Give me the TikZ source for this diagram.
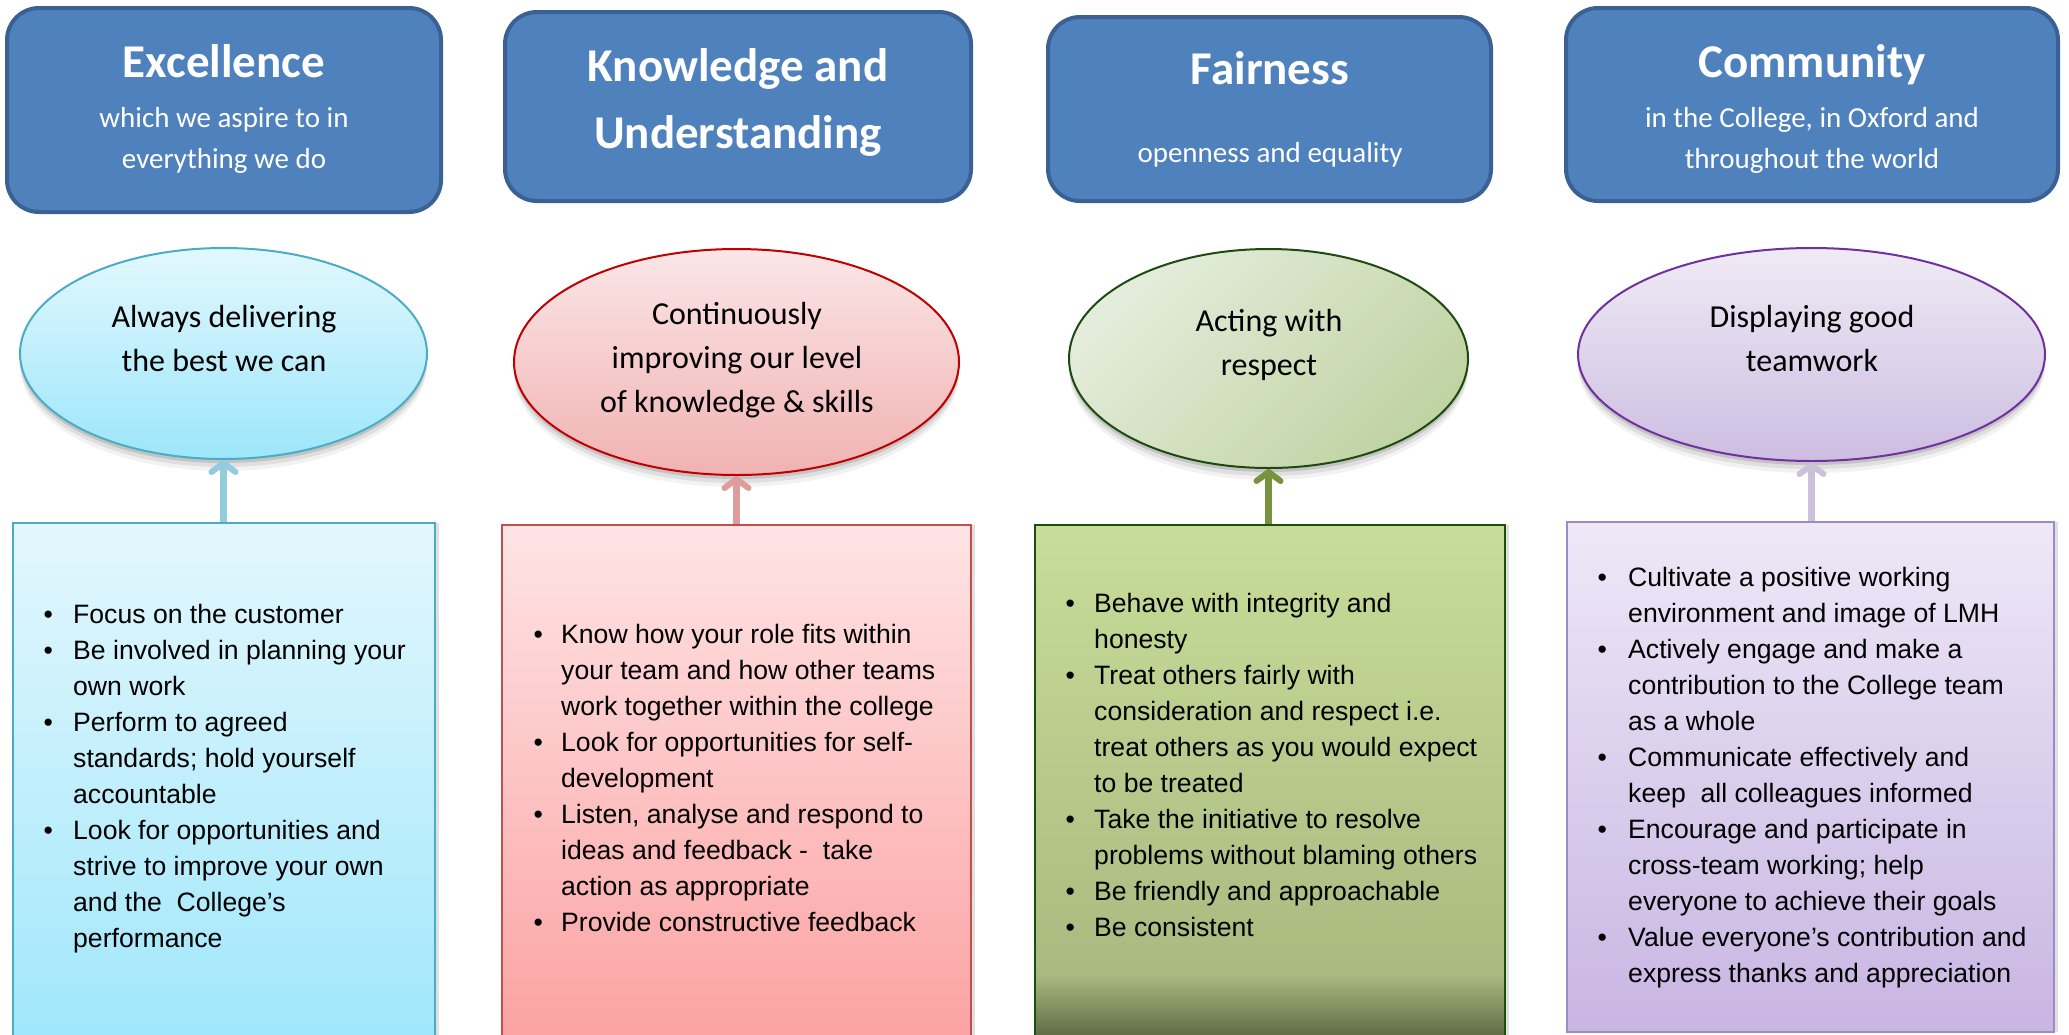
\documentclass[tikz,border=0pt]{standalone}
\usepackage{fontspec}
\setmainfont{Carlito}
\newfontfamily\arialf{Liberation Sans}
\usetikzlibrary{arrows.meta,shadows,shapes.geometric}
\definecolor{hdrfill}{HTML}{4F81BD}
\definecolor{hdrline}{HTML}{3A6094}
\definecolor{eAt}{HTML}{E2F8FD}\definecolor{eAb}{HTML}{9DE6FA}\definecolor{eAl}{HTML}{4BACC6}
\definecolor{eBt}{HTML}{FBE6E7}\definecolor{eBb}{HTML}{F1B2B2}\definecolor{eBl}{HTML}{C00000}
\definecolor{eCt}{HTML}{E4EDDC}\definecolor{eCb}{HTML}{C0D3A3}\definecolor{eCl}{HTML}{1E4A10}
\definecolor{eDt}{HTML}{EFEBF5}\definecolor{eDb}{HTML}{CDBDE1}\definecolor{eDl}{HTML}{7030A0}
\definecolor{bAt}{HTML}{E3F7FD}\definecolor{bAb}{HTML}{A0E7FB}\definecolor{bAl}{HTML}{4BACC6}
\definecolor{bBt}{HTML}{FEE4E5}\definecolor{bBb}{HTML}{FCA2A2}\definecolor{bBl}{HTML}{C0504D}
\definecolor{gT}{HTML}{C8DD99}\definecolor{gM}{HTML}{A9BA80}\definecolor{gB}{HTML}{5E6C44}\definecolor{bCl}{HTML}{1E4D0E}
\definecolor{bDt}{HTML}{EEE8F7}\definecolor{bDb}{HTML}{C8B5E2}\definecolor{bDl}{HTML}{9F8AC4}
\definecolor{aA}{HTML}{93CDDD}\definecolor{aB}{HTML}{DE9C9D}\definecolor{aC}{HTML}{77933C}\definecolor{aD}{HTML}{CCC1DA}
\pgfdeclareverticalshading{gboxshade}{100bp}{color(0bp)=(gB); color(25bp)=(gB); color(31bp)=(gM); color(75bp)=(gT); color(100bp)=(gT)}
\newcommand\bl[1]{\makebox[#1pt][l]{\textbullet}}
\newcommand\ind[1]{\hspace*{#1pt}}
\begin{document}
\begin{tikzpicture}[x=1pt,y=-1pt,
  hdr/.style={draw=hdrline, line width=4pt, fill=hdrfill, rounded corners=32pt, inner sep=0pt},
  ttl/.style={text=white, font=\bfseries\fontsize{47}{67}\selectfont, inner sep=0pt, anchor=base},
  sub/.style={text=white, font=\fontsize{29}{41}\selectfont, inner sep=0pt, anchor=base},
  etxt/.style={text=black, font=\fontsize{32}{44}\selectfont, inner sep=0pt, anchor=base},
  shadowy/.style={drop shadow={shadow xshift=0pt,shadow yshift=-4pt,opacity=.12,fill=black},
                  drop shadow={shadow xshift=0pt,shadow yshift=-8pt,opacity=.08,fill=black},
                  drop shadow={shadow xshift=0pt,shadow yshift=-12pt,opacity=.05,fill=black}},
  ell/.style={ellipse, line width=2pt, inner sep=0pt, shadowy},
  bbox/.style={rectangle, line width=2pt, inner sep=0pt,
               drop shadow={shadow xshift=4pt,shadow yshift=0pt,opacity=.12,fill=black}},
  lst/.style={text=black, font=\arialf\fontsize{26.6}{36}\selectfont, inner sep=0pt, anchor=base west},
  arr/.style={line width=7pt, -{Straight Barb[length=9pt,width=24pt,line width=6pt,round]}}
]
\useasboundingbox (0,0) rectangle (2069,1034);
\clip (0,0) rectangle (2069,1034);
\fill[white] (0,0) rectangle (2069,1034);

% header boxes
\node[hdr, minimum width=434pt, minimum height=204pt] (h1) at (224,110) {};
\node[hdr, minimum width=466pt, minimum height=189pt] (h2) at (738,106.5) {};
\node[hdr, minimum width=443pt, minimum height=184pt] (h3) at (1269.5,109) {};
\node[hdr, minimum width=492pt, minimum height=193pt] (h4) at (1812,104.5) {};

\node[ttl] (t1) at (224,77) {Excellence};
\node[sub] (s1) at (224,127) {\begin{tabular}[t]{@{}c@{}}which we aspire to in\\everything we do\end{tabular}};
\node[ttl] (t2) at (738,81) {\begin{tabular}[t]{@{}c@{}}Knowledge and\\Understanding\end{tabular}};
\node[ttl] (t3) at (1270,84) {Fairness};
\node[sub] (s3) at (1270,162) {openness and equality};
\node[ttl] (t4) at (1812,77) {Community};
\node[sub] (s4) at (1812,127) {\begin{tabular}[t]{@{}c@{}}in the College, in Oxford and\\throughout the world\end{tabular}};

% bottom boxes
\node[bbox, draw=bAl, top color=bAt, bottom color=bAb, minimum width=422pt, minimum height=517pt] (b1) at (224,781.5) {};
\node[bbox, draw=bBl, top color=bBt, bottom color=bBb, minimum width=469pt, minimum height=515pt] (b2) at (736.5,782.5) {};
\node[bbox, draw=bCl, shading=gboxshade, minimum width=470pt, minimum height=511pt] (b3) at (1270,780.5) {};
\node[bbox, draw=bDl, top color=bDt, bottom color=bDb, minimum width=487pt, minimum height=510pt] (b4) at (1810.5,777) {};

% ellipses
\node[ell, draw=eAl, top color=eAt, bottom color=eAb, minimum width=407pt, minimum height=211pt] (e1) at (223.5,353.5) {};
\node[ell, draw=eBl, top color=eBt, bottom color=eBb, minimum width=445pt, minimum height=226pt] (e2) at (736.5,362) {};
\node[ell, draw=eCl, top color=eCt, bottom color=eCb, shading angle=45, minimum width=399pt, minimum height=219pt] (e3) at (1268.5,358.5) {};
\node[ell, draw=eDl, top color=eDt, bottom color=eDb, minimum width=467pt, minimum height=213pt] (e4) at (1811.5,354.5) {};

\node[etxt] (et1) at (224,327) {\begin{tabular}[t]{@{}c@{}}Always delivering\\the best we can\end{tabular}};
\node[etxt] (et2) at (737,324) {\begin{tabular}[t]{@{}c@{}}Continuously\\improving our level\\of knowledge \& skills\end{tabular}};
\node[etxt] (et3) at (1269,331) {\begin{tabular}[t]{@{}c@{}}Acting with\\respect\end{tabular}};
\node[etxt] (et4) at (1812,327) {\begin{tabular}[t]{@{}c@{}}Displaying good\\teamwork\end{tabular}};

% arrows
\draw[arr, aA] (e1.south |- b1.north) -- (e1.south);
\draw[arr, aB] (e2.south |- b2.north) -- (e2.south);
\draw[arr, aC] (e3.south |- b3.north) -- (e3.south);
\draw[arr, aD] (e4.south |- b4.north) -- (e4.south);

% lists
\node[lst] (l1) at (43.4,623) {\begin{tabular}[t]{@{}l@{}}
\bl{29.6}Focus on the customer\\
\bl{29.6}Be involved in planning your\\
\ind{29.6}own work\\
\bl{29.6}Perform to agreed\\
\ind{29.6}standards; hold yourself\\
\ind{29.6}accountable\\
\bl{29.6}Look for opportunities and\\
\ind{29.6}strive to improve your own\\
\ind{29.6}and the\ \ College’s\\
\ind{29.6}performance
\end{tabular}};
\node[lst] (l2) at (533.4,643) {\begin{tabular}[t]{@{}l@{}}
\bl{27.6}Know how your role fits within\\
\ind{27.6}your team and how other teams\\
\ind{27.6}work together within the college\\
\bl{27.6}Look for opportunities for self-\\
\ind{27.6}development\\
\bl{27.6}Listen, analyse and respond to\\
\ind{27.6}ideas and feedback -\ \ take\\
\ind{27.6}action as appropriate\\
\bl{27.6}Provide constructive feedback
\end{tabular}};
\node[lst] (l3) at (1065.4,612) {\begin{tabular}[t]{@{}l@{}}
\bl{28.6}Behave with integrity and\\
\ind{28.6}honesty\\
\bl{28.6}Treat others fairly with\\
\ind{28.6}consideration and respect i.e.\\
\ind{28.6}treat others as you would expect\\
\ind{28.6}to be treated\\
\bl{28.6}Take the initiative to resolve\\
\ind{28.6}problems without blaming others\\
\bl{28.6}Be friendly and approachable\\
\bl{28.6}Be consistent
\end{tabular}};
\node[lst] (l4) at (1597.4,586) {\begin{tabular}[t]{@{}l@{}}
\bl{30.6}Cultivate a positive working\\
\ind{30.6}environment and image of LMH\\
\bl{30.6}Actively engage and make a\\
\ind{30.6}contribution to the College team\\
\ind{30.6}as a whole\\
\bl{30.6}Communicate effectively and\\
\ind{30.6}keep\ \ all colleagues informed\\
\bl{30.6}Encourage and participate in\\
\ind{30.6}cross-team working; help\\
\ind{30.6}everyone to achieve their goals\\
\bl{30.6}Value everyone’s contribution and\\
\ind{30.6}express thanks and appreciation
\end{tabular}};
\end{tikzpicture}
\end{document}
